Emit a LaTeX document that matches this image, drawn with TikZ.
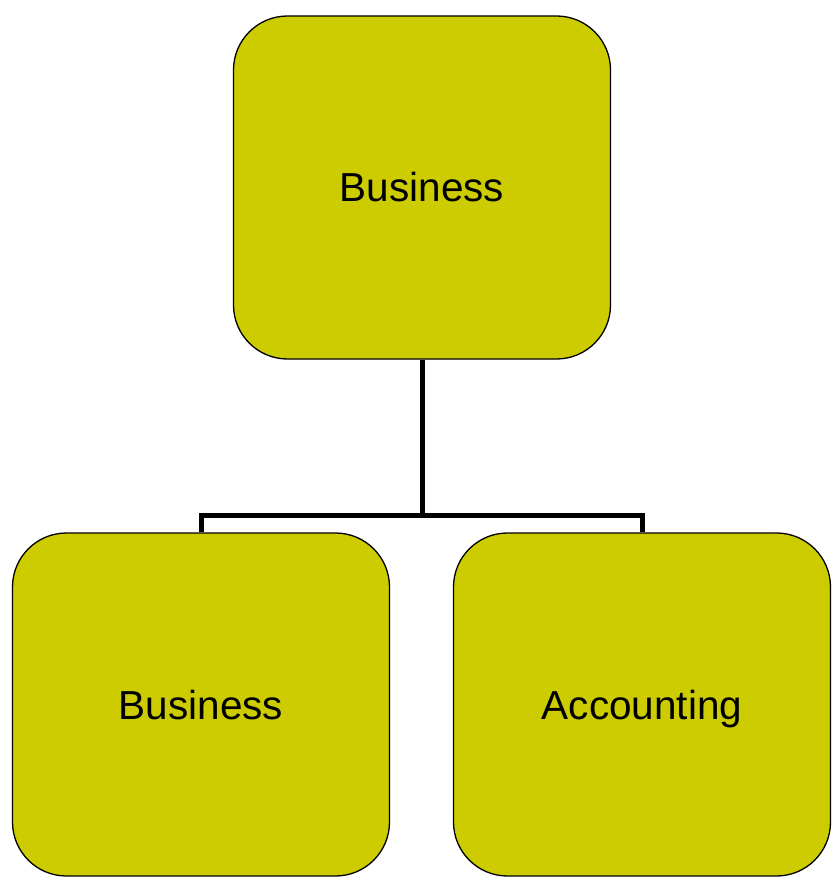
\documentclass[tikz,border=0pt]{standalone}
\usepackage{fontspec}
\setmainfont{Liberation Sans}
\definecolor{boxfill}{HTML}{CCCC00}
\begin{document}
\begin{tikzpicture}[x=1pt,y=-1pt,
  orgbox/.style={draw=black,line width=1.3pt,fill=boxfill,rounded corners=54pt,
    minimum width=377pt,minimum height=343pt,inner sep=0pt,
    text height=29pt,text depth=0pt,
    font=\fontsize{40.5}{45}\selectfont},
  link/.style={draw=black,line width=5pt}]
\useasboundingbox (0,0) rectangle (832,882);
\node[orgbox] (top) at (422,187.5) {Business};
\node[orgbox] (bl) at (201,704.5) {Business};
\node[orgbox] (br) at (642,704.5) {Accounting};
\coordinate (j) at (422,515);
\draw[link] (top.south) -- (j);
\draw[link] (bl.north) -- (bl.north |- j) -- (br.north |- j) -- (br.north);
\end{tikzpicture}
\end{document}
